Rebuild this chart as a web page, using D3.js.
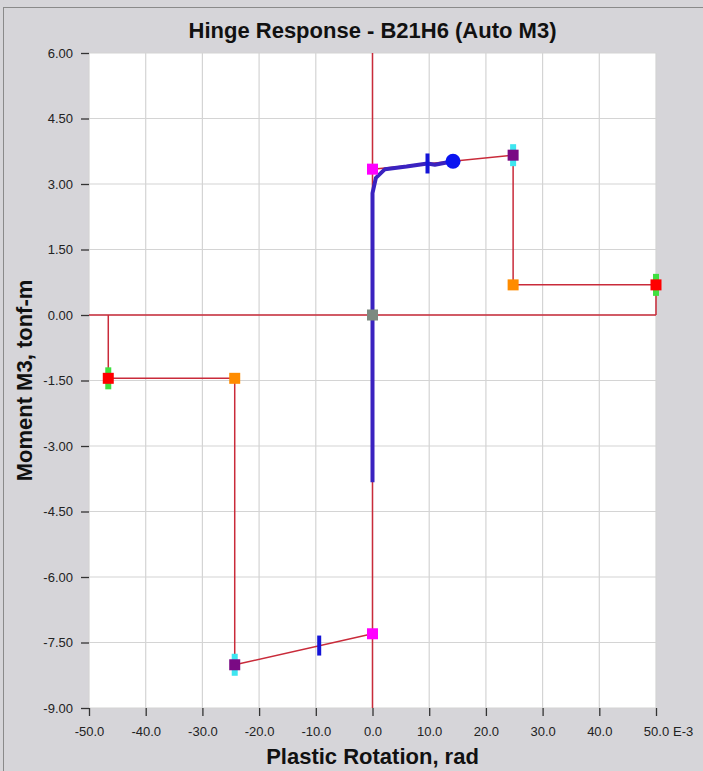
<!DOCTYPE html>
<html>
<head>
<meta charset="utf-8">
<script src="https://cdn.jsdelivr.net/npm/d3@7"></script>
<style>
  body { margin: 0; background: #d6d5d9; }
  svg { display: block; font-family: "Liberation Sans", Arial, sans-serif; }
</style>
</head>
<body>
<script>
// plastic rotation (E-3 rad) / moment (tonf-m)
const xTicks = [-50, -40, -30, -20, -10, 0, 10, 20, 30, 40, 50]
const yTicks = [-9, -7.5, -6, -4.5, -3, -1.5, 0, 1.5, 3, 4.5, 6]

// backbone curve, negative side then positive side
const backNegX = [-46.6, -46.6, -24.3, -24.3, 0]
const backNegY = [0, -1.45, -1.45, -8.01, -7.3]
const backPosX = [0, 24.8, 24.8, 50, 50]
const backPosY = [3.34, 3.66, 0.69, 0.69, 0]

// point markers on the backbone
const markX = [0, 0, 0, 24.8, -24.3, 24.8, -24.3, 50, -46.6]
const markY = [0, 3.34, -7.3, 3.66, -8.01, 0.69, -1.45, 0.69, -1.45]
const markColor = ["#7d8a80", "#ff00ff", "#ff00ff", "#7a0a84", "#7a0a84", "#ff8c00", "#ff8c00", "#ff0000", "#ff0000"]

// acceptance bars behind the markers
const barX = [24.8, -24.3, 50, -46.6]
const barY = [3.66, -8.01, 0.69, -1.45]
const barColor = ["#3ee6f0", "#3ee6f0", "#40e040", "#40e040"]

// hinge response path
const respX = [0, 0, 0.6, 2.2, 6, 9.7, 11, 14.2]
const respY = [-3.83, 2.79, 3.14, 3.34, 3.4, 3.47, 3.44, 3.52]

// blue step ticks
const stepX = [9.7, -9.4]
const stepY = [3.47, -7.57]

const width = 703, height = 771
const margin = {left: 89, right: 47, top: 53, bottom: 63}

const svg = d3.select("body").append("svg")
    .attr("width", width).attr("height", height)

// outer frame
svg.append("rect")
    .attr("x", 3.5).attr("y", 7.5)
    .attr("width", 710).attr("height", 780)
    .attr("fill", "#d6d5d9").attr("stroke", "#8a8a8a")

const x = d3.scaleLinear().domain([-50, 50]).range([margin.left, width - margin.right])
const y = d3.scaleLinear().domain([-9, 6]).range([height - margin.bottom, margin.top])

// plain hyphen for negatives, like the original
const fmt = f => d => d3.format(f)(d).replace("\u2212", "-")

// plot area
svg.append("rect")
    .attr("x", x(-50)).attr("y", y(6))
    .attr("width", x(50) - x(-50)).attr("height", y(-9) - y(6))
    .attr("fill", "#ffffff")

// grid
svg.append("g").selectAll("line")
    .data(xTicks)
    .enter().append("line")
    .attr("x1", d => x(d)).attr("x2", d => x(d))
    .attr("y1", y(-9)).attr("y2", y(6))
    .attr("stroke", "#d4d4d4").attr("stroke-width", 1.2)

svg.append("g").selectAll("line")
    .data(yTicks)
    .enter().append("line")
    .attr("x1", x(-50)).attr("x2", x(50))
    .attr("y1", d => y(d)).attr("y2", d => y(d))
    .attr("stroke", "#d4d4d4").attr("stroke-width", 1.2)

// axes
const xAxis = svg.append("g")
    .attr("transform", `translate(0,${y(-9)})`)
    .call(d3.axisBottom(x).tickValues(xTicks).tickFormat(fmt(".1f")).tickSize(8).tickPadding(7))
const yAxis = svg.append("g")
    .attr("transform", `translate(${x(-50)},0)`)
    .call(d3.axisLeft(y).tickValues(yTicks).tickFormat(fmt(".2f")).tickSize(8).tickPadding(8))

;[xAxis, yAxis].forEach(a => {
    a.select(".domain").remove()
    a.selectAll(".tick line").attr("stroke", "#333").attr("stroke-width", 1.3)
    a.selectAll(".tick text").attr("fill", "#222").style("font-size", "13px")
})
xAxis.selectAll(".tick text").attr("dy", "1em")

svg.append("text")
    .attr("x", x(50) + 17).attr("y", y(-9) + 28)
    .attr("fill", "#222").style("font-size", "13px")
    .text("E-3")

// red reference lines through origin
const red = "#c92b3a"
svg.append("line")
    .attr("x1", x(-50)).attr("x2", x(50)).attr("y1", y(0)).attr("y2", y(0))
    .attr("stroke", red).attr("stroke-width", 1.5)
svg.append("line")
    .attr("x1", x(0)).attr("x2", x(0)).attr("y1", y(-9)).attr("y2", y(6))
    .attr("stroke", red).attr("stroke-width", 1.5)

const line = d3.line().x(d => x(d[0])).y(d => y(d[1]))

svg.append("path")
    .attr("d", line(d3.zip(backNegX, backNegY)))
    .attr("fill", "none").attr("stroke", red).attr("stroke-width", 1.5)
svg.append("path")
    .attr("d", line(d3.zip(backPosX, backPosY)))
    .attr("fill", "none").attr("stroke", red).attr("stroke-width", 1.5)

// response
svg.append("path")
    .attr("d", line(d3.zip(respX, respY)))
    .attr("fill", "none").attr("stroke", "#3a22c0").attr("stroke-width", 4)
    .attr("stroke-linejoin", "round")

// acceptance bars
svg.append("g").selectAll("rect")
    .data(d3.range(barX.length))
    .enter().append("rect")
    .attr("x", i => x(barX[i]) - 3).attr("y", i => y(barY[i]) - 11)
    .attr("width", 6).attr("height", 22)
    .attr("fill", i => barColor[i])

// markers
svg.append("g").selectAll("rect")
    .data(d3.range(markX.length))
    .enter().append("rect")
    .attr("x", i => x(markX[i]) - 5.5).attr("y", i => y(markY[i]) - 5.5)
    .attr("width", 11).attr("height", 11)
    .attr("fill", i => markColor[i])

// step ticks
svg.append("g").selectAll("rect")
    .data(d3.range(stepX.length))
    .enter().append("rect")
    .attr("x", i => x(stepX[i]) - 2).attr("y", i => y(stepY[i]) - 10)
    .attr("width", 4).attr("height", 20)
    .attr("fill", "#1414d8")

// current state
svg.append("circle")
    .attr("cx", x(respX[respX.length - 1]))
    .attr("cy", y(respY[respY.length - 1]))
    .attr("r", 7.5)
    .attr("fill", "#0a14f0")

// titles
svg.append("text")
    .attr("x", x(0)).attr("y", 38)
    .attr("text-anchor", "middle")
    .style("font-size", "22px").style("font-weight", "bold").attr("fill", "#111")
    .text("Hinge Response - B21H6 (Auto M3)")

svg.append("text")
    .attr("transform", `translate(32,${y(-1.5)}) rotate(-90)`)
    .attr("text-anchor", "middle")
    .style("font-size", "22px").style("font-weight", "bold").attr("fill", "#111")
    .text("Moment M3, tonf-m")

svg.append("text")
    .attr("x", x(0)).attr("y", 764)
    .attr("text-anchor", "middle")
    .style("font-size", "22px").style("font-weight", "bold").attr("fill", "#111")
    .text("Plastic Rotation, rad")
</script>
</body>
</html>
